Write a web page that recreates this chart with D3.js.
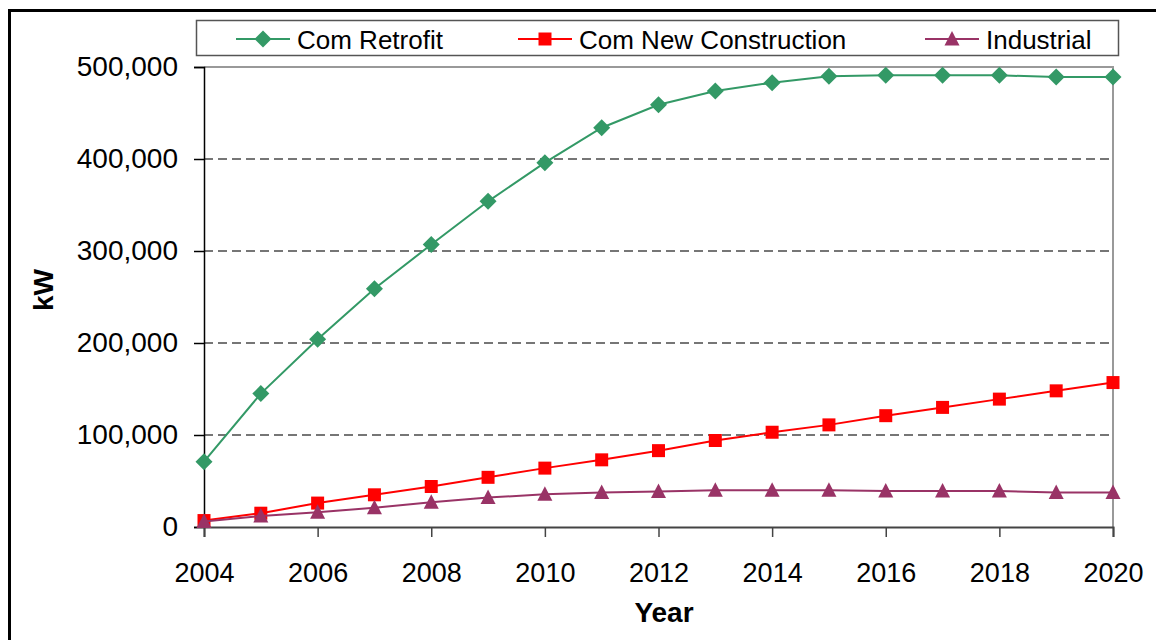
<!DOCTYPE html>
<html>
<head>
<meta charset="utf-8">
<script src="https://cdn.jsdelivr.net/npm/d3@7/dist/d3.min.js"></script>
<style>
  html, body { margin: 0; padding: 0; background: #fff; }
  svg { display: block; font-family: "Liberation Sans", Arial, sans-serif; }
</style>
</head>
<body>
<svg id="chart" width="1156" height="640"></svg>
<script>
// Installed demand-side savings by program, kW
const years = [2004, 2005, 2006, 2007, 2008, 2009, 2010, 2011, 2012, 2013, 2014, 2015, 2016, 2017, 2018, 2019, 2020];
const comRetrofit = [71000, 145000, 204000, 259000, 307000, 354000, 396000, 434000, 459000, 474000, 483000, 490000, 491000, 491000, 491000, 489000, 489000];
const comNewConstruction = [7000, 15000, 26000, 35000, 44000, 54000, 64000, 73000, 83000, 94000, 103000, 111000, 121000, 130000, 139000, 148000, 157000];
const industrial = [6000, 12000, 16000, 21000, 27000, 32000, 35500, 37500, 38500, 40000, 40000, 40000, 39000, 39000, 39000, 37500, 37500];
const seriesNames = ["Com Retrofit", "Com New Construction", "Industrial"];
const yTicks = [0, 100000, 200000, 300000, 400000, 500000];
const xTicks = [2004, 2006, 2008, 2010, 2012, 2014, 2016, 2018, 2020];

const series = [
  { name: seriesNames[0], values: comRetrofit, color: "#339966", symbol: "diamond" },
  { name: seriesNames[1], values: comNewConstruction, color: "#ff0000", symbol: "square" },
  { name: seriesNames[2], values: industrial, color: "#993366", symbol: "triangle" }
];

const svg = d3.select("#chart");
const plotLeft = 204, plotRight = 1113, plotTop = 67, plotBottom = 527;

const x = d3.scaleLinear().domain([2004, 2020]).range([plotLeft, plotRight]);
const y = d3.scaleLinear().domain([0, 500000]).range([plotBottom, plotTop]);

// outer frame
svg.append("rect")
  .attr("x", 9.5).attr("y", 10.5)
  .attr("width", 1170).attr("height", 660)
  .attr("fill", "none").attr("stroke", "#000").attr("stroke-width", 3);

// dashed gridlines
svg.append("g").selectAll("line")
  .data(yTicks.filter(v => v > 0 && v < 500000))
  .join("line")
  .attr("x1", plotLeft).attr("x2", plotRight)
  .attr("y1", d => y(d)).attr("y2", d => y(d))
  .attr("stroke", "#4a4a4a").attr("stroke-width", 1.5)
  .attr("stroke-dasharray", "9,5");

// plot border (top, right)
svg.append("path")
  .attr("d", `M${plotLeft},${plotTop}H${plotRight}V${plotBottom}`)
  .attr("fill", "none").attr("stroke", "#999").attr("stroke-width", 2);

// y axis
const yAxis = svg.append("g")
  .attr("transform", `translate(${plotLeft},0)`)
  .call(d3.axisLeft(y).tickValues(yTicks).tickSize(10).tickPadding(16)
    .tickFormat(d3.format(",")));
yAxis.select(".domain").attr("stroke", "#000").attr("stroke-width", 1.5);
yAxis.selectAll(".tick line").attr("stroke", "#000").attr("stroke-width", 1.5);
yAxis.selectAll("text").attr("font-size", 28).attr("fill", "#000")
  .attr("font-family", "Liberation Sans, Arial, sans-serif");

// x axis
const xAxis = svg.append("g")
  .attr("transform", `translate(0,${plotBottom})`)
  .call(d3.axisBottom(x).tickValues(xTicks).tickSize(10).tickPadding(26)
    .tickFormat(d3.format("d")));
xAxis.select(".domain").attr("stroke", "#444").attr("stroke-width", 2);
xAxis.selectAll(".tick line").attr("stroke", "#444").attr("stroke-width", 1.5);
xAxis.selectAll("text").attr("font-size", 27).attr("fill", "#000")
  .attr("font-family", "Liberation Sans, Arial, sans-serif");

// axis titles
svg.append("text")
  .attr("x", 664).attr("y", 622)
  .attr("text-anchor", "middle")
  .attr("font-size", 28).attr("font-weight", "bold")
  .text("Year");
svg.append("text")
  .attr("transform", "translate(53,290) rotate(-90)")
  .attr("text-anchor", "middle")
  .attr("font-size", 28).attr("font-weight", "bold")
  .text("kW");

// marker shapes
function markerPath(symbol) {
  if (symbol === "diamond") return "M0,-8.5L8.5,0L0,8.5L-8.5,0Z";
  if (symbol === "square") return "M-6.5,-6.5H6.5V6.5H-6.5Z";
  return "M0,-8L7.5,6.5L-7.5,6.5Z";
}

const line = d3.line().x((d, i) => x(years[i])).y(d => y(d));

series.forEach(s => {
  const g = svg.append("g");
  g.append("path")
    .attr("d", line(s.values))
    .attr("fill", "none").attr("stroke", s.color).attr("stroke-width", 2);
  g.selectAll("path.mk")
    .data(s.values)
    .join("path")
    .attr("class", "mk")
    .attr("transform", (d, i) => `translate(${x(years[i])},${y(d)})`)
    .attr("d", markerPath(s.symbol))
    .attr("fill", s.color);
});

// legend
const legend = svg.append("g");
legend.append("rect")
  .attr("x", 196.5).attr("y", 20.5).attr("width", 922).attr("height", 35)
  .attr("fill", "#fff").attr("stroke", "#555").attr("stroke-width", 1.5);

const legendItems = [
  { s: series[0], x0: 236 },
  { s: series[1], x0: 518 },
  { s: series[2], x0: 925 }
];
legendItems.forEach(it => {
  const cy = 39;
  legend.append("line")
    .attr("x1", it.x0).attr("x2", it.x0 + 54)
    .attr("y1", cy).attr("y2", cy)
    .attr("stroke", it.s.color).attr("stroke-width", 2);
  legend.append("path")
    .attr("transform", `translate(${it.x0 + 27},${cy})`)
    .attr("d", markerPath(it.s.symbol))
    .attr("fill", it.s.color);
  legend.append("text")
    .attr("x", it.x0 + 61).attr("y", cy + 10)
    .attr("font-size", 26)
    .text(it.s.name);
});
</script>
</body>
</html>
